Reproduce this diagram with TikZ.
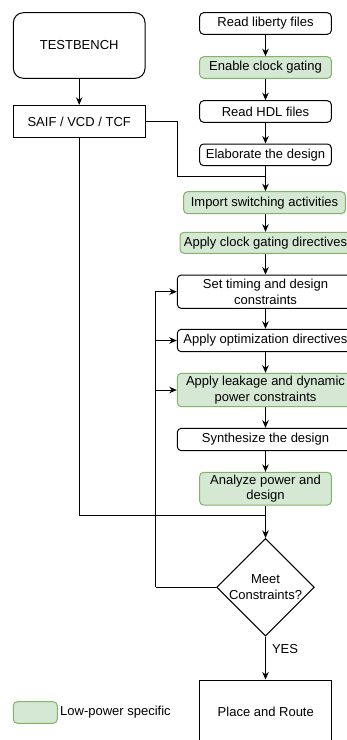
\documentclass[tikz,border=0pt]{standalone}
\usepackage{fontspec}
\setmainfont{Liberation Sans}
\usetikzlibrary{shapes.geometric,arrows.meta}
\definecolor{lpfill}{HTML}{D5E8D4}
\definecolor{lpdraw}{HTML}{82B366}
\begin{document}
\begin{tikzpicture}[x=1pt,y=-1pt,
  every node/.style={font=\fontsize{13}{15.5}\selectfont, align=center, inner sep=0pt},
  stepbox/.style={draw=black, line width=1pt, rounded corners=4pt, fill=white},
  lowpower/.style={stepbox, draw=lpdraw, fill=lpfill},
  plainbox/.style={draw=black, line width=1pt, fill=white},
  link/.style={line width=1pt, draw=black},
  arr/.style={link, -{Stealth[length=7.5pt,width=6.5pt]}}
]
\useasboundingbox (0,0) rectangle (347,740);
\clip (0,0) rectangle (347,740);

% left column: stimulus
\node[stepbox, rounded corners=10pt, minimum width=131.7pt, minimum height=65.6pt] (tb) at (79.2,45.5) {TESTBENCH};
\node[plainbox, minimum width=131.7pt, minimum height=32.4pt] (saif) at (79.2,121.5) {SAIF / VCD / TCF};

% main synthesis flow
\node[stepbox, minimum width=131.7pt, minimum height=21.6pt] (rl) at (265.5,23.5) {Read liberty files};
\node[lowpower, minimum width=131.7pt, minimum height=21.6pt] (ecg) at (265.5,67.5) {Enable clock gating};
\node[stepbox, minimum width=131.7pt, minimum height=21.6pt] (hdl) at (265.5,111.5) {Read HDL files};
\node[stepbox, minimum width=131.7pt, minimum height=21.6pt] (elab) at (265.5,154.8) {Elaborate the design};
\node[lowpower, minimum width=161.7pt, minimum height=22pt] (imp) at (264.5,202.7) {Import switching activities};
\node[lowpower, minimum width=171pt, minimum height=21pt] (acg) at (265.5,242.8) {Apply clock gating directives};
\node[stepbox, minimum width=176.4pt, minimum height=33.3pt] (stc) at (265.5,291.7) {Set timing and design\\constraints};
\node[stepbox, minimum width=176.4pt, minimum height=22.4pt] (aod) at (265.5,340.5) {Apply optimization directives};
\node[lowpower, minimum width=176.4pt, minimum height=33.4pt] (alp) at (265.5,390) {Apply leakage and dynamic\\power constraints};
\node[stepbox, minimum width=176.4pt, minimum height=22.4pt] (syn) at (265.5,439.5) {Synthesize the design};
\node[lowpower, minimum width=131.7pt, minimum height=32.7pt] (apd) at (265.5,488.7) {Analyze power and\\design};
\node[diamond, draw=black, line width=1pt, minimum width=97.7pt, minimum height=97.7pt] (dia) at (265.5,587.3) {};
\node (diatext) at (dia.center) {Meet\\Constraints?};
\node[plainbox, minimum width=131.7pt, minimum height=64pt] (pr) at (265.8,712) {Place and Route};

% legend
\node[lowpower, minimum width=44pt, minimum height=21.6pt] (legbox) at (35.3,712.5) {};
\node[anchor=west] (legtext) at (60,712) {Low-power specific};

% junction points
\coordinate (j1) at (265.5,176.7);
\coordinate (j2) at (265.5,515.7);
\coordinate (loopx) at (155.7,587.3);

% straight flow arrows
\draw[arr] (tb) -- (saif);
\draw[arr] (rl) -- (ecg);
\draw[arr] (ecg) -- (hdl);
\draw[arr] (hdl) -- (elab);
\draw[arr] (elab.south) -- (imp.north -| elab.south);
\draw[arr] (imp.south -| acg.north) -- (acg);
\draw[arr] (acg) -- (stc);
\draw[arr] (stc) -- (aod);
\draw[arr] (aod) -- (alp);
\draw[arr] (alp) -- (syn);
\draw[arr] (syn) -- (apd);
\draw[arr] (apd) -- (dia.north);
\draw[arr] (dia.south) -- node[right=6pt, pos=0.28] (yes) {YES} (pr.north -| dia.south);

% activity files feed into the flow
\draw[link] (saif.east) -- (177.3,121.5) |- (j1);
\draw[link] (saif.south) |- (j2);

% iteration loop
\draw[link] (dia.west) -- (loopx);
\draw[arr] (loopx) |- (stc.west);
\draw[arr] (loopx |- aod.west) -- (aod.west);
\draw[arr] (loopx |- alp.west) -- (alp.west);
\end{tikzpicture}
\end{document}
